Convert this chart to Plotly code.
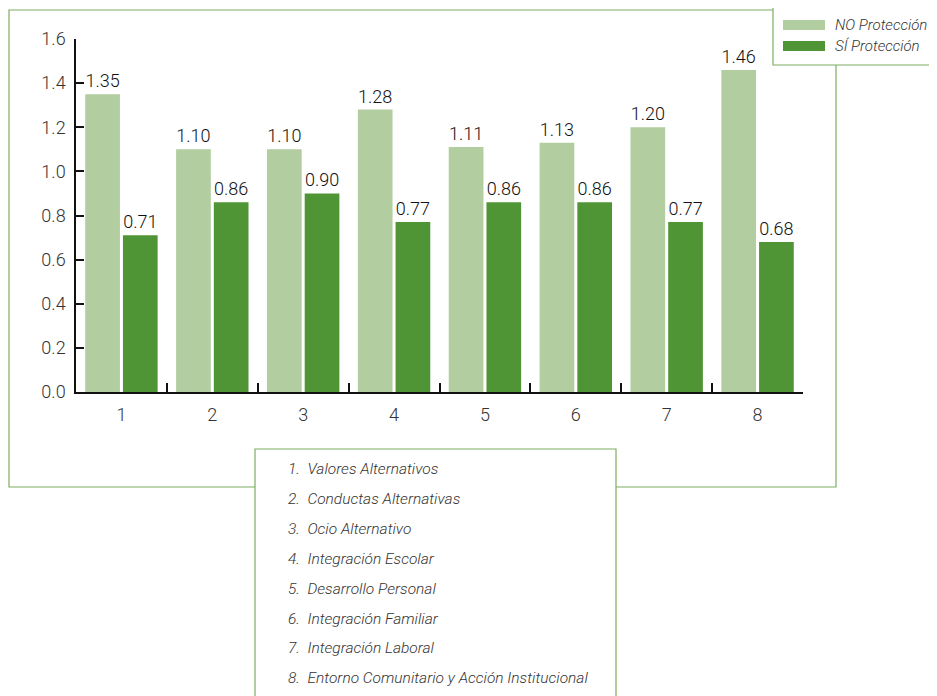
import plotly.graph_objects as go

categories = ["1", "2", "3", "4", "5", "6", "7", "8"]
no_proteccion = [1.35, 1.10, 1.10, 1.28, 1.11, 1.13, 1.20, 1.46]
si_proteccion = [0.71, 0.86, 0.90, 0.77, 0.86, 0.86, 0.77, 0.68]
series_names = ["NO Protección", "SÍ Protección"]
y_ticks = [0.0, 0.2, 0.4, 0.6, 0.8, 1.0, 1.2, 1.4, 1.6]
category_names = [
    "1.  Valores Alternativos",
    "2.  Conductas Alternativas",
    "3.  Ocio Alternativo",
    "4.  Integración Escolar",
    "5.  Desarrollo Personal",
    "6.  Integración Familiar",
    "7.  Integración Laboral",
    "8.  Entorno Comunitario y Acción Institucional",
]

FONT = "Roboto, sans-serif"
LIGHT = "#b2cd9f"
DARK = "#509535"
BORDER = "#7fae63"

OFF = 8  # page body margin
W, H = 937 - OFF, 696 - OFF
# plot area in page pixels: x 76..803, y 39..392
L, R, T, B = 76 - OFF, W - (803 - OFF), 39 - OFF, H - (392 - OFF)
PW, PH = W - L - R, H - T - B


def px_x(px):
    return (px - OFF - L) / PW


def px_y(py):
    return (H - B - (py - OFF)) / PH


fig = go.Figure()
for name, vals, col in [(series_names[0], no_proteccion, LIGHT),
                        (series_names[1], si_proteccion, DARK)]:
    fig.add_trace(go.Bar(
        x=categories, y=vals, name=name, marker_color=col,
        marker_line_width=0,
        texttemplate="%{y:.2f}", textposition="outside",
        textfont=dict(family=FONT, size=18, color="#111111", weight=300),
        cliponaxis=False,
    ))

shapes = [
    dict(type="rect", xref="paper", yref="paper",
         x0=px_x(9), x1=px_x(836), y0=px_y(487), y1=px_y(10),
         line=dict(color=BORDER, width=1.2), fillcolor="rgba(0,0,0,0)", layer="below"),
    dict(type="rect", xref="paper", yref="paper",
         x0=px_x(773), x1=px_x(950), y0=px_y(65), y1=px_y(-5),
         line=dict(color=BORDER, width=1.2), fillcolor="white", layer="above"),
    dict(type="rect", xref="paper", yref="paper",
         x0=px_x(255), x1=px_x(616), y0=px_y(710), y1=px_y(449),
         line=dict(color=BORDER, width=1.2), fillcolor="white", layer="above"),
    dict(type="rect", xref="paper", yref="paper",
         x0=px_x(783), x1=px_x(825), y0=px_y(30), y1=px_y(20),
         line=dict(width=0), fillcolor=LIGHT, layer="above"),
    dict(type="rect", xref="paper", yref="paper",
         x0=px_x(783), x1=px_x(825), y0=px_y(51), y1=px_y(41),
         line=dict(width=0), fillcolor=DARK, layer="above"),
]

annotations = []
for i, nm in enumerate(series_names):
    annotations.append(dict(
        xref="paper", yref="paper", x=px_x(833), y=px_y(25 + 21 * i),
        xanchor="left", yanchor="middle", text=nm, showarrow=False,
        font=dict(family=FONT, size=15, color="#333333", style="italic", weight=300),
    ))
for i, nm in enumerate(category_names):
    annotations.append(dict(
        xref="paper", yref="paper", x=px_x(286), y=px_y(469 + 29.9 * i),
        xanchor="left", yanchor="middle", text=nm, showarrow=False,
        font=dict(family=FONT, size=15.5, color="#333333", style="italic", weight=300),
    ))

fig.update_layout(
    width=W, height=H,
    margin=dict(l=L, r=R, t=T, b=B, autoexpand=False),
    paper_bgcolor="white", plot_bgcolor="white",
    barmode="group", bargap=0.17, bargroupgap=0.08,
    showlegend=False,
    font=dict(family=FONT, size=18, color="#333333", weight=300),
    shapes=shapes, annotations=annotations,
    xaxis=dict(
        type="category", showline=True, linecolor="#111111", linewidth=1.5,
        ticks="inside", tickson="boundaries", ticklen=9, tickcolor="#111111",
        tickwidth=1.5, showgrid=False, zeroline=False, ticklabelstandoff=6,
        tickfont=dict(family=FONT, size=18, color="#333333", weight=300),
    ),
    yaxis=dict(
        range=[0, 1.6], tickvals=y_ticks, tickformat=".1f",
        showline=True, linecolor="#111111", linewidth=1.5,
        ticks="inside", ticklen=8, tickcolor="#111111", tickwidth=1.5,
        showgrid=False, zeroline=False, ticklabelstandoff=5,
        tickfont=dict(family=FONT, size=18, color="#333333", weight=300),
    ),
)

fig.write_html("out.html")
